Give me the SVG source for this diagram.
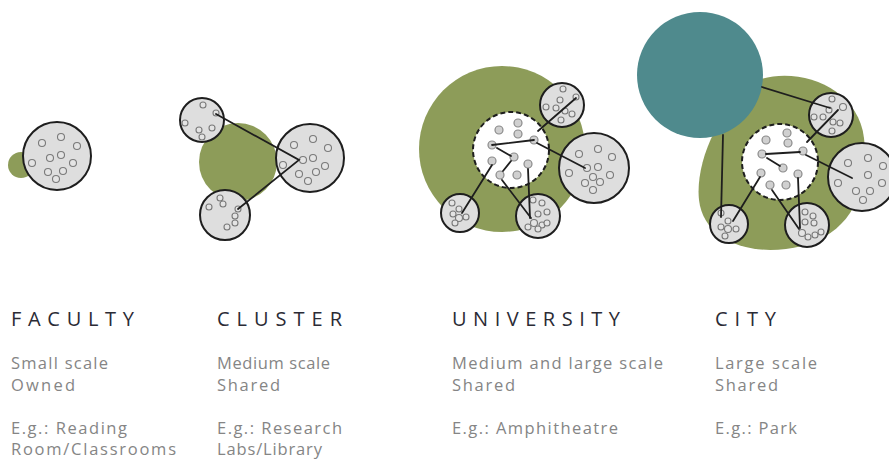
<svg xmlns="http://www.w3.org/2000/svg" width="889" height="460" viewBox="0 0 889 460">
<defs>
<style>
.green{fill:#8d9c59}
.teal{fill:#4f8a8d}
.pod{fill:#dedede;stroke:#1e1e1e;stroke-width:2}
.hub{fill:#ffffff;stroke:#1e1e1e;stroke-width:2;stroke-dasharray:5 3}
.d{fill:#e4e4e4;stroke:#7a7a7a;stroke-width:1.1}
.h{fill:#d0d0d0;stroke:#8a8a8a;stroke-width:1.2}
.ln{stroke:#1e1e1e;stroke-width:1.8;fill:none;stroke-linecap:round}
.title{font-family:"Open Sans","Noto Sans",sans-serif;font-size:20px;fill:#2b2b35}
.body{font-family:"Open Sans","Noto Sans",sans-serif;font-size:16.5px;fill:#858585}
</style>
</defs>
<rect width="889" height="460" fill="#ffffff"/>

<!-- FACULTY -->
<g id="faculty">
<circle class="green" cx="21" cy="165" r="13"/>
<circle class="pod" cx="57" cy="156" r="34"/>
<g>
<circle class="d" cx="42" cy="143" r="3.5"/><circle class="d" cx="61" cy="137" r="3.5"/><circle class="d" cx="77" cy="146" r="3.5"/>
<circle class="d" cx="50" cy="158" r="3.5"/><circle class="d" cx="61" cy="155" r="3.5"/><circle class="d" cx="73" cy="163" r="3.5"/>
<circle class="d" cx="32" cy="163" r="3.5"/><circle class="d" cx="48" cy="172" r="3.5"/><circle class="d" cx="63" cy="171" r="3.5"/>
<circle class="d" cx="56" cy="179" r="3.5"/>
</g>
</g>

<!-- CLUSTER -->
<g id="cluster">
<circle class="green" cx="238" cy="162" r="39"/>
<circle class="pod" cx="202" cy="120" r="22"/>
<circle class="pod" cx="310" cy="158" r="34"/>
<circle class="pod" cx="225" cy="215" r="25"/>
<g>
<circle class="d" cx="203" cy="105" r="3"/><circle class="d" cx="216" cy="113" r="3"/><circle class="d" cx="185" cy="123" r="3"/>
<circle class="d" cx="199" cy="130" r="3"/><circle class="d" cx="212" cy="128" r="3"/><circle class="d" cx="202" cy="137" r="3"/>
<circle class="d" cx="294" cy="145" r="3.5"/><circle class="d" cx="313" cy="139" r="3.5"/><circle class="d" cx="328" cy="148" r="3.5"/>
<circle class="d" cx="283" cy="165" r="3.5"/><circle class="d" cx="303" cy="160" r="3.5"/><circle class="d" cx="313" cy="158" r="3.5"/>
<circle class="d" cx="325" cy="166" r="3.5"/><circle class="d" cx="299" cy="174" r="3.5"/><circle class="d" cx="316" cy="172" r="3.5"/>
<circle class="d" cx="308" cy="181" r="3.5"/>
<circle class="d" cx="220" cy="198" r="3"/><circle class="d" cx="223" cy="204" r="3"/><circle class="d" cx="209" cy="207" r="3"/>
<circle class="d" cx="238" cy="209" r="3"/><circle class="d" cx="235" cy="216" r="3"/><circle class="d" cx="235" cy="223" r="3"/>
<circle class="d" cx="227" cy="227" r="3"/>
</g>
</g>

<!-- UNIVERSITY -->
<g id="university">
<circle class="green" cx="502" cy="149" r="83"/>
<circle class="hub" cx="511" cy="150" r="38"/>
<circle class="pod" cx="562" cy="105" r="22"/>
<circle class="pod" cx="594" cy="168" r="35"/>
<circle class="pod" cx="460" cy="213" r="19"/>
<circle class="pod" cx="538" cy="216" r="22"/>
<g>
<circle class="h" cx="499" cy="130" r="4"/><circle class="h" cx="518" cy="123" r="4"/><circle class="h" cx="518" cy="134" r="4"/>
<circle class="h" cx="492" cy="145" r="4"/><circle class="h" cx="534" cy="140" r="4"/><circle class="h" cx="492" cy="161" r="4"/>
<circle class="h" cx="514" cy="157" r="4"/><circle class="h" cx="528" cy="164" r="4"/><circle class="h" cx="500" cy="175" r="4"/>
<circle class="h" cx="517" cy="175" r="4"/>
<circle class="d" cx="563" cy="89" r="3"/><circle class="d" cx="576" cy="97" r="3"/><circle class="d" cx="560" cy="100" r="3"/>
<circle class="d" cx="546" cy="107" r="3"/><circle class="d" cx="556" cy="108" r="3"/><circle class="d" cx="565" cy="111" r="3"/>
<circle class="d" cx="572" cy="114" r="3"/><circle class="d" cx="561" cy="120" r="3"/>
<circle class="d" cx="598" cy="149" r="3.5"/><circle class="d" cx="579" cy="154" r="3.5"/><circle class="d" cx="612" cy="157" r="3.5"/>
<circle class="d" cx="587" cy="168" r="3.5"/><circle class="d" cx="598" cy="167" r="3.5"/><circle class="d" cx="569" cy="173" r="3.5"/>
<circle class="d" cx="593" cy="177" r="3.5"/><circle class="d" cx="610" cy="175" r="3.5"/><circle class="d" cx="585" cy="183" r="3.5"/>
<circle class="d" cx="600" cy="182" r="3.5"/><circle class="d" cx="593" cy="190" r="3.5"/>
<circle class="d" cx="452" cy="203" r="3"/><circle class="d" cx="459" cy="209" r="3"/><circle class="d" cx="453" cy="214" r="3"/>
<circle class="d" cx="459" cy="218" r="3.5"/><circle class="d" cx="466" cy="217" r="3"/><circle class="d" cx="455" cy="223" r="3"/>
<circle class="d" cx="533" cy="200" r="3"/><circle class="d" cx="542" cy="203" r="3"/><circle class="d" cx="547" cy="212" r="3"/>
<circle class="d" cx="538" cy="214" r="3"/><circle class="d" cx="534" cy="223" r="3.5"/><circle class="d" cx="542" cy="225" r="3"/>
<circle class="d" cx="547" cy="223" r="3"/><circle class="d" cx="538" cy="229" r="3"/><circle class="d" cx="528" cy="227" r="3"/>
</g>
</g>

<!-- CITY -->
<g id="city">
<path class="green" d="M 758 80 C 800 66, 858 88, 864 138 C 870 190, 852 232, 802 246 C 752 258, 704 242, 699 200 C 695 163, 718 108, 758 80 Z"/>
<circle class="teal" cx="700" cy="75" r="63"/>
<circle class="hub" cx="780" cy="162" r="38"/>
<circle class="pod" cx="831" cy="115" r="22"/>
<circle class="pod" cx="862" cy="177" r="34"/>
<circle class="pod" cx="729" cy="224" r="19"/>
<circle class="pod" cx="807" cy="225" r="22"/>
<g>
<circle class="h" cx="766" cy="140" r="4"/><circle class="h" cx="787" cy="133" r="4"/><circle class="h" cx="788" cy="143" r="4"/>
<circle class="h" cx="762" cy="154" r="4"/><circle class="h" cx="803" cy="151" r="4"/><circle class="h" cx="783" cy="168" r="4"/>
<circle class="h" cx="761" cy="173" r="4"/><circle class="h" cx="798" cy="174" r="4"/><circle class="h" cx="770" cy="185" r="4"/>
<circle class="h" cx="786" cy="185" r="4"/>
<circle class="d" cx="832" cy="99" r="3"/><circle class="d" cx="843" cy="107" r="3.5"/><circle class="d" cx="829" cy="110" r="3"/>
<circle class="d" cx="814" cy="117" r="3"/><circle class="d" cx="823" cy="117" r="3"/><circle class="d" cx="833" cy="122" r="3"/>
<circle class="d" cx="840" cy="123" r="3"/><circle class="d" cx="832" cy="131" r="3"/>
<circle class="d" cx="848" cy="163" r="3.5"/><circle class="d" cx="868" cy="158" r="3.5"/><circle class="d" cx="883" cy="166" r="3.5"/>
<circle class="d" cx="838" cy="183" r="3.5"/><circle class="d" cx="868" cy="175" r="3.5"/><circle class="d" cx="882" cy="183" r="3.5"/>
<circle class="d" cx="856" cy="191" r="3.5"/><circle class="d" cx="870" cy="191" r="3.5"/><circle class="d" cx="863" cy="200" r="3.5"/>
<circle class="d" cx="721" cy="213" r="3"/><circle class="d" cx="728" cy="221" r="3"/><circle class="d" cx="721" cy="227" r="3"/>
<circle class="d" cx="728" cy="229" r="3.5"/><circle class="d" cx="736" cy="229" r="3"/><circle class="d" cx="725" cy="236" r="3"/>
<circle class="d" cx="805" cy="212" r="3"/><circle class="d" cx="813" cy="216" r="3"/><circle class="d" cx="814" cy="223" r="3"/>
<circle class="d" cx="805" cy="222" r="3"/><circle class="d" cx="802" cy="233" r="3.5"/><circle class="d" cx="808" cy="237" r="3"/>
<circle class="d" cx="815" cy="235" r="3"/><circle class="d" cx="821" cy="232" r="3"/>
</g>
</g>

<!-- connectors -->
<g id="connectors">
<polyline class="ln" points="216,114 299,160 238,209"/>
<line class="ln" x1="492" y1="145" x2="534" y2="140"/>
<line class="ln" x1="497" y1="148" x2="511" y2="156"/>
<line class="ln" x1="511" y1="161" x2="503" y2="171"/>
<line class="ln" x1="538" y1="131" x2="576" y2="98"/>
<line class="ln" x1="537" y1="143" x2="585" y2="168"/>
<line class="ln" x1="492" y1="165" x2="462" y2="213"/>
<line class="ln" x1="502" y1="180" x2="531" y2="218"/>
<line class="ln" x1="528" y1="169" x2="530" y2="218"/>
<line class="ln" x1="766" y1="154" x2="800" y2="152"/>
<line class="ln" x1="767" y1="158" x2="780" y2="166"/>
<line class="ln" x1="760" y1="177" x2="733" y2="221"/>
<line class="ln" x1="798" y1="178" x2="800" y2="228"/>
<line class="ln" x1="772" y1="190" x2="799" y2="229"/>
<line class="ln" x1="806" y1="155" x2="852" y2="178"/>
<line class="ln" x1="807" y1="142" x2="838" y2="110"/>
<line class="ln" x1="762" y1="87" x2="830" y2="108"/>
<line class="ln" x1="723" y1="135" x2="721" y2="217"/>
</g>

<!-- labels -->
<g id="labels">
<text class="title" x="11" y="326" textLength="123" lengthAdjust="spacing">FACULTY</text>
<text class="body" x="11" y="369" textLength="97" lengthAdjust="spacing">Small scale</text>
<text class="body" x="11" y="391" textLength="64" lengthAdjust="spacing">Owned</text>
<text class="body" x="11" y="434" textLength="116" lengthAdjust="spacing">E.g.: Reading</text>
<text class="body" x="11" y="455" textLength="165" lengthAdjust="spacing">Room/Classrooms</text>

<text class="title" x="217" y="326" textLength="125" lengthAdjust="spacing">CLUSTER</text>
<text class="body" x="217" y="369" textLength="113" lengthAdjust="spacing">Medium scale</text>
<text class="body" x="217" y="391" textLength="63" lengthAdjust="spacing">Shared</text>
<text class="body" x="217" y="434" textLength="125" lengthAdjust="spacing">E.g.: Research</text>
<text class="body" x="217" y="455" textLength="105" lengthAdjust="spacing">Labs/Library</text>

<text class="title" x="452" y="326" textLength="168" lengthAdjust="spacing">UNIVERSITY</text>
<text class="body" x="452" y="369" textLength="211" lengthAdjust="spacing">Medium and large scale</text>
<text class="body" x="452" y="391" textLength="63" lengthAdjust="spacing">Shared</text>
<text class="body" x="452" y="434" textLength="166" lengthAdjust="spacing">E.g.: Amphitheatre</text>

<text class="title" x="715" y="326" textLength="61" lengthAdjust="spacing">CITY</text>
<text class="body" x="715" y="369" textLength="102" lengthAdjust="spacing">Large scale</text>
<text class="body" x="715" y="391" textLength="63" lengthAdjust="spacing">Shared</text>
<text class="body" x="715" y="434" textLength="82" lengthAdjust="spacing">E.g.: Park</text>
</g>
</svg>
